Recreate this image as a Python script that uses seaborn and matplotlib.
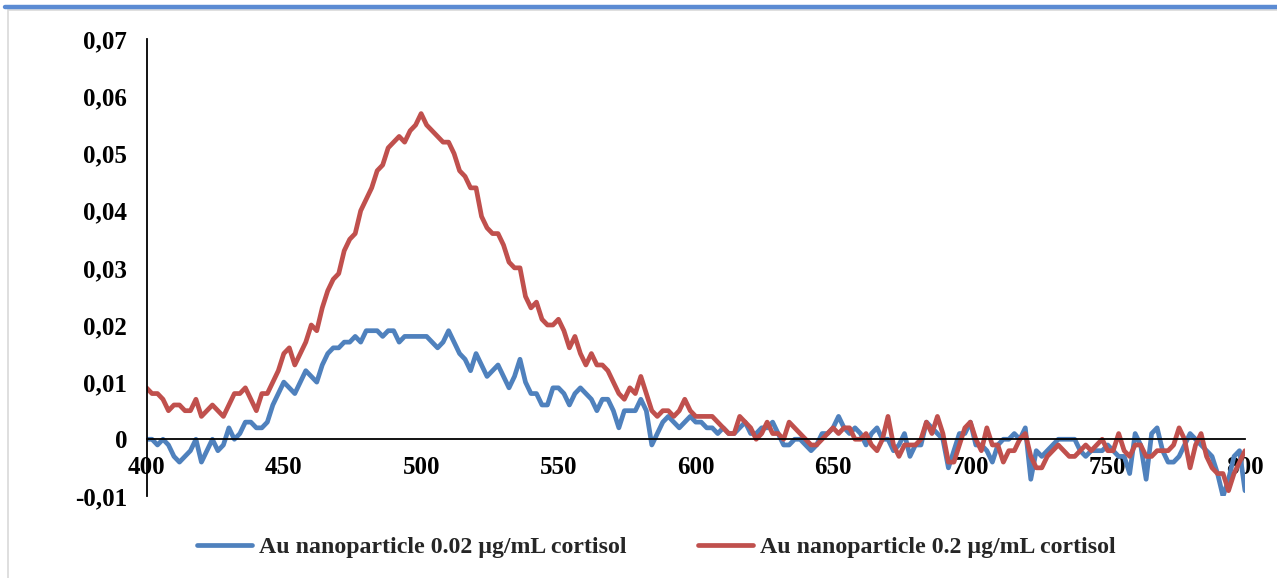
import numpy as np
import pandas as pd
import matplotlib
matplotlib.use("Agg")
import matplotlib.pyplot as plt
import seaborn as sns
from matplotlib.ticker import FuncFormatter, MultipleLocator
from matplotlib.lines import Line2D
from matplotlib.patches import Rectangle

# ---------------- data (absorbance in thousandths) ----------------
wavelength = np.arange(400, 801, 2)

abs_002_milli = [
    0, 0, -1, 0, -1, -3, -4, -3, -2, 0,          # 400-418
    -4, -2, 0, -2, -1, 2, 0, 1, 3, 3,            # 420-438
    2, 2, 3, 6, 8, 10, 9, 8, 10, 12,             # 440-458
    11, 10, 13, 15, 16, 16, 17, 17, 18, 17,      # 460-478
    19, 19, 19, 18, 19, 19, 17, 18, 18, 18,      # 480-498
    18, 18, 17, 16, 17, 19, 17, 15, 14, 12,      # 500-518
    15, 13, 11, 12, 13, 11, 9, 11, 14, 10,       # 520-538
    8, 8, 6, 6, 9, 9, 8, 6, 8, 9,                # 540-558
    8, 7, 5, 7, 7, 5, 2, 5, 5, 5,                # 560-578
    7, 5, -1, 1, 3, 4, 3, 2, 3, 4,               # 580-598
    3, 3, 2, 2, 1, 2, 1, 1, 2, 3,                # 600-618
    1, 1, 2, 2, 3, 1, -1, -1, 0, 0,              # 620-638
    -1, -2, -1, 1, 1, 2, 4, 2, 1, 2,             # 640-658
    1, -1, 1, 2, 0, 0, -2, -1, 1, -3,            # 660-678
    -1, -1, 3, 2, 1, 0, -5, -2, 1, 1,            # 680-698
    3, -1, -1, -2, -4, -1, 0, 0, 1, 0,           # 700-718
    2, -7, -2, -3, -2, -1, 0, 0, 0, 0,           # 720-738
    -2, -3, -2, -2, -2, -1, -2, -3, -3, -6,      # 740-758
    1, -1, -7, 1, 2, -2, -4, -4, -3, -1,         # 760-778
    1, 0, -1, -2, -3, -6, -10, -7, -3, -2,       # 780-798
    -9,                                          # 800
]

abs_02_milli = [
    9, 8, 8, 7, 5, 6, 6, 5, 5, 7,                # 400-418
    4, 5, 6, 5, 4, 6, 8, 8, 9, 7,                # 420-438
    5, 8, 8, 10, 12, 15, 16, 13, 15, 17,         # 440-458
    20, 19, 23, 26, 28, 29, 33, 35, 36, 40,      # 460-478
    42, 44, 47, 48, 51, 52, 53, 52, 54, 55,      # 480-498
    57, 55, 54, 53, 52, 52, 50, 47, 46, 44,      # 500-518
    44, 39, 37, 36, 36, 34, 31, 30, 30, 25,      # 520-538
    23, 24, 21, 20, 20, 21, 19, 16, 18, 15,      # 540-558
    13, 15, 13, 13, 12, 10, 8, 7, 9, 8,          # 560-578
    11, 8, 5, 4, 5, 5, 4, 5, 7, 5,               # 580-598
    4, 4, 4, 4, 3, 2, 1, 1, 4, 3,                # 600-618
    2, 0, 1, 3, 1, 1, 0, 3, 2, 1,                # 620-638
    0, -1, -1, 0, 1, 2, 1, 2, 2, 0,              # 640-658
    0, 1, -1, -2, 0, 4, -1, -3, -1, -1,          # 660-678
    -1, 0, 3, 1, 4, 1, -4, -4, -1, 2,            # 680-698
    3, 0, -2, 2, -1, -1, -4, -2, -2, 0,          # 700-718
    1, -3, -5, -5, -3, -2, -1, -2, -3, -3,       # 720-738
    -2, -1, -2, -1, 0, -2, -2, 1, -2, -3,        # 740-758
    -1, -1, -3, -3, -2, -2, -2, -1, 2, 0,        # 760-778
    -5, -1, 1, -3, -5, -6, -6, -9, -6, -4,       # 780-798
    -2,                                          # 800
]

series_labels = ["Au nanoparticle 0.02 µg/mL cortisol",
                 "Au nanoparticle 0.2 µg/mL cortisol"]
series_colors = ["#4F81BD", "#C0504D"]
x_ticks = [400, 450, 500, 550, 600, 650, 700, 750, 800]

# ---------------- build table ----------------
df = pd.DataFrame({
    "wavelength": np.concatenate([wavelength, wavelength]),
    "absorbance": np.concatenate([np.array(abs_002_milli) / 1000.0,
                                  np.array(abs_02_milli) / 1000.0]),
    "series": [series_labels[0]] * len(wavelength) + [series_labels[1]] * len(wavelength),
})

sns.set_theme(style="white")
plt.rcParams["font.family"] = ["Liberation Serif", "DejaVu Serif"]
plt.rcParams["font.weight"] = "bold"

W, H = 1277, 578
fig = plt.figure(figsize=(W / 100, H / 100), dpi=100)
fig.patch.set_facecolor("white")

left, right, top, bottom = 146.5, 1245, 39.3, 496.4
ax = fig.add_axes([left / W, 1 - bottom / H, (right - left) / W, (bottom - top) / H])

sns.lineplot(data=df, x="wavelength", y="absorbance", hue="series",
             hue_order=series_labels, palette=series_colors,
             linewidth=3.4, ax=ax, legend=False, estimator=None)

ax.set_xlim(400, 800)
ax.set_ylim(-0.01, 0.07)
ax.set_xlabel("")
ax.set_ylabel("")

for s in ["top", "right"]:
    ax.spines[s].set_visible(False)
ax.spines["bottom"].set_position(("data", 0))
for s in ["left", "bottom"]:
    ax.spines[s].set_color("black")
    ax.spines[s].set_linewidth(1.3)

ax.set_xticks(x_ticks)
ax.yaxis.set_major_locator(MultipleLocator(0.01))


def yfmt(v, pos):
    if abs(v) < 1e-9:
        return "0"
    return f"{v:.2f}".replace(".", ",")


ax.yaxis.set_major_formatter(FuncFormatter(yfmt))
ax.xaxis.set_major_formatter(FuncFormatter(lambda v, p: f"{int(round(v))}"))

ax.tick_params(axis="x", direction="in", length=5, width=1.3, color="black",
               labelsize=18, pad=12, labelcolor="black")
ax.tick_params(axis="y", direction="in", length=5, width=1.3, color="black",
               labelsize=18, pad=14, labelcolor="black")
for lab in ax.get_xticklabels() + ax.get_yticklabels():
    lab.set_fontweight("bold")

# legend
handles = [Line2D([], [], color=c, lw=3.4) for c in series_colors]
fig.legend(handles, series_labels, loc="center", bbox_to_anchor=(0.514, 1 - 547 / H),
           ncol=2, frameon=False, handlelength=2.3, handletextpad=0.3,
           columnspacing=3.0, prop={"family": "Liberation Serif", "weight": "bold", "size": 17.2})

# decorative page elements (document crop)
fig.add_artist(Line2D([5 / W, 1], [1 - 7 / H, 1 - 7 / H], color="#5B8BD3", lw=3.2,
                      transform=fig.transFigure))
fig.add_artist(Rectangle((8 / W, -0.05), 1.2, (1 - 10 / H) + 0.05, transform=fig.transFigure,
                         fill=False, edgecolor="#D9D9D9", lw=1.2))

fig.savefig("out.png", dpi=100, facecolor="white")
